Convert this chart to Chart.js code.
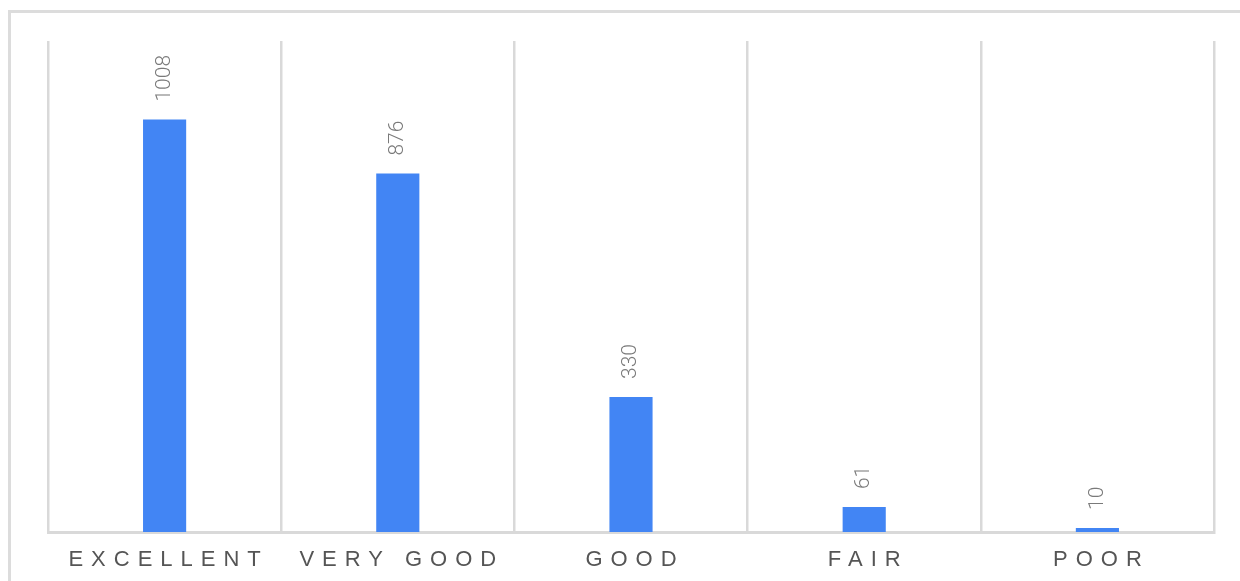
<!DOCTYPE html>
<html>
<head>
<meta charset="utf-8">
<script src="https://cdn.jsdelivr.net/npm/chart.js@4/dist/chart.umd.min.js"></script>
<style>
  html, body { margin: 0; padding: 0; background: #fff; overflow: hidden; }
  #frame {
    position: absolute; left: 8px; top: 10px; width: 1260px; height: 620px;
    border-left: 3px solid #dcdcdc; border-top: 3px solid #dcdcdc;
  }
  #wrap { position: absolute; left: 0; top: 0; width: 1240px; height: 581px; }
</style>
</head>
<body>
<div id="frame"></div>
<div id="wrap"><canvas id="ratingChart"></canvas></div>
<script>
// datos del grafico
const categories = ['EXCELLENT', 'VERY GOOD', 'GOOD', 'FAIR', 'POOR'];
const counts = [1008, 876, 330, 61, 10];
const yMax = 1200;

// etiquetas de valor giradas encima de cada barra
const valueLabels = {
    id: 'valueLabels',
    afterDatasetsDraw(chart) {
        const ctx = chart.ctx;
        const meta = chart.getDatasetMeta(0);
        ctx.save();
        ctx.fillStyle = '#7a7a7a';
        ctx.font = '300 21px Roboto';
        ctx.textAlign = 'left';
        ctx.textBaseline = 'middle';
        meta.data.forEach((bar, i) => {
            ctx.save();
            ctx.translate(bar.x, bar.y - 18);
            ctx.rotate(-Math.PI / 2);
            ctx.fillText(String(counts[i]), 0, 0);
            ctx.restore();
        });
        ctx.restore();
    }
};

// nombres de categoria con espaciado de letras
const spacedTicks = {
    id: 'spacedTicks',
    afterDraw(chart) {
        const ctx = chart.ctx;
        const xScale = chart.scales.x;
        ctx.save();
        ctx.fillStyle = '#555555';
        ctx.font = '400 22px "Liberation Sans"';
        ctx.letterSpacing = '8px';
        ctx.textAlign = 'center';
        ctx.textBaseline = 'middle';
        categories.forEach((c, i) => {
            ctx.fillText(c, xScale.getPixelForValue(i) + 4, chart.chartArea.bottom + 28);
        });
        ctx.restore();
    }
};

new Chart(document.getElementById('ratingChart').getContext('2d'), {
    type: 'bar',
    data: {
        labels: categories,
        datasets: [{
            data: counts,
            backgroundColor: '#4285f4',
            categoryPercentage: 1,
            barPercentage: 0.185
        }]
    },
    options: {
        responsive: true,
        maintainAspectRatio: false,
        animation: false,
        layout: { padding: { left: 48, right: 26, top: 41, bottom: 49 } },
        plugins: {
            legend: { display: false },
            tooltip: { enabled: false }
        },
        scales: {
            x: {
                grid: { color: '#d9d9d9', lineWidth: 2.5, drawTicks: false, offset: true },
                border: { color: '#d9d9d9', width: 3 },
                ticks: { display: false }
            },
            y: {
                display: false,
                min: 0,
                max: yMax
            }
        }
    },
    plugins: [valueLabels, spacedTicks]
});
</script>
</body>
</html>
